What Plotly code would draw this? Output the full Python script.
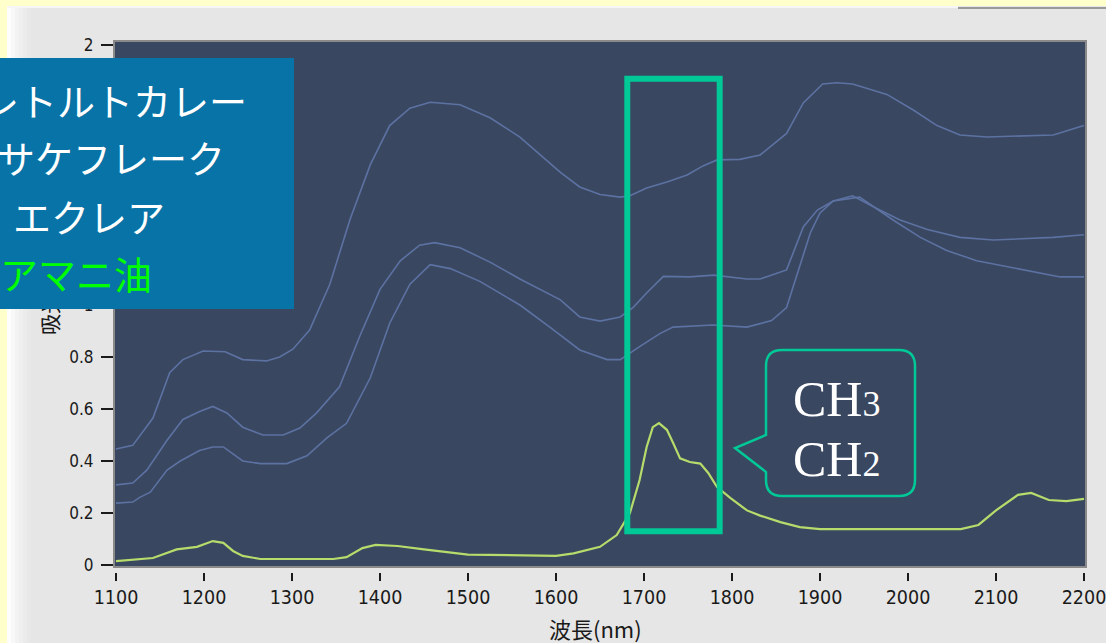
import plotly.graph_objects as go

# ---- spectra (absorbance vs wavelength, nm) ----
wl_curry = [1100, 1119, 1142, 1161, 1176, 1199, 1224, 1244, 1271, 1286, 1301, 1320, 1343, 1366, 1389,
            1411, 1434, 1457, 1491, 1525, 1559, 1605, 1627, 1650, 1673, 1684, 1703, 1726, 1749, 1767,
            1783, 1809, 1832, 1862, 1881, 1903, 1919, 1937, 1976, 2006, 2033, 2059, 2090, 2165, 2200]
abs_curry = [0.446, 0.46, 0.565, 0.74, 0.79, 0.823, 0.82, 0.79, 0.785, 0.80, 0.83, 0.904, 1.08, 1.33, 1.54,
             1.69, 1.757, 1.78, 1.77, 1.72, 1.646, 1.51, 1.454, 1.425, 1.415, 1.42, 1.45, 1.473, 1.50, 1.535,
             1.558, 1.56, 1.577, 1.66, 1.777, 1.85, 1.855, 1.85, 1.81, 1.75, 1.69, 1.654, 1.646, 1.654, 1.69]

wl_salmon = [1100, 1119, 1135, 1158, 1176, 1195, 1210, 1226, 1244, 1267, 1290, 1309, 1328, 1354, 1377,
             1400, 1423, 1445, 1462, 1491, 1525, 1559, 1605, 1627, 1650, 1673, 1688, 1703, 1722, 1752,
             1779, 1817, 1832, 1862, 1881, 1897, 1915, 1937, 1965, 1991, 2022, 2059, 2097, 2165, 2200]
abs_salmon = [0.308, 0.315, 0.365, 0.48, 0.56, 0.59, 0.61, 0.585, 0.53, 0.50, 0.50, 0.527, 0.585, 0.685, 0.88,
              1.06, 1.17, 1.23, 1.24, 1.22, 1.165, 1.10, 1.02, 0.954, 0.938, 0.954, 0.992, 1.046, 1.11, 1.108,
              1.115, 1.10, 1.10, 1.135, 1.30, 1.365, 1.40, 1.42, 1.37, 1.327, 1.29, 1.26, 1.25, 1.26, 1.27]

wl_eclair = [1100, 1119, 1127, 1139, 1158, 1173, 1195, 1210, 1222, 1244, 1264, 1294, 1317, 1340, 1362,
             1389, 1411, 1434, 1457, 1480, 1514, 1559, 1593, 1627, 1658, 1673, 1695, 1718, 1733, 1778,
             1817, 1845, 1862, 1877, 1889, 1900, 1915, 1945, 1983, 2014, 2044, 2078, 2116, 2153, 2173, 2200]
abs_eclair = [0.238, 0.242, 0.26, 0.28, 0.365, 0.40, 0.44, 0.454, 0.454, 0.40, 0.39, 0.39, 0.42, 0.49, 0.545,
              0.72, 0.93, 1.08, 1.155, 1.14, 1.09, 1.0, 0.915, 0.827, 0.79, 0.79, 0.84, 0.89, 0.915, 0.923,
              0.915, 0.94, 0.99, 1.146, 1.277, 1.354, 1.40, 1.415, 1.327, 1.26, 1.21, 1.17, 1.146, 1.12, 1.108, 1.108]

wl_linseed = [1100, 1127, 1142, 1169, 1192, 1210, 1222, 1233, 1244, 1264, 1347, 1362, 1380, 1395, 1420,
              1450, 1480, 1500, 1600, 1620, 1650, 1669, 1684, 1695, 1703, 1710, 1717, 1726, 1733, 1741,
              1752, 1764, 1773, 1783, 1798, 1817, 1832, 1855, 1877, 1900, 2060, 2080, 2100, 2125, 2140,
              2160, 2180, 2200]
abs_linseed = [0.015, 0.023, 0.027, 0.06, 0.07, 0.092, 0.085, 0.054, 0.035, 0.023, 0.023, 0.03, 0.065, 0.077, 0.073,
               0.06, 0.048, 0.04, 0.035, 0.045, 0.07, 0.115, 0.2, 0.327, 0.454, 0.53, 0.546, 0.52, 0.47, 0.41,
               0.396, 0.39, 0.354, 0.30, 0.258, 0.21, 0.19, 0.165, 0.146, 0.138, 0.138, 0.154, 0.21, 0.27, 0.277,
               0.25, 0.246, 0.254]

sample_names = ["レトルトカレー", "サケフレーク", "エクレア", "アマニ油"]

x_ticks = list(range(1100, 2201, 100))
y_ticks = [0, 0.2, 0.4, 0.6, 0.8, 1.0, 1.2, 1.4, 1.6, 1.8, 2.0]
y_hidden = {1.2, 1.4, 1.6, 1.8}          # labels sitting under the sample panel

# highlighted C-H band (nm, absorbance)
band_x = (1681, 1786)
band_y = (0.13, 1.87)

# ---- canvas geometry (pixels) ----
W, H = 1106, 643
PL, PR, PT, PB = 115, 1085, 42, 566      # plot box
PAPER_B = 572                            # paper bottom (tick row for x)

def px(x):
    return (x - PL) / (PR - PL)

def py(y):
    return (PAPER_B - y) / (PAPER_B - PT)

def pt(x, y):
    return f"{px(x):.5f},{py(y):.5f}"

BG_PLOT = "#3A4761"
PANEL = "#E6E6E6"
BLUE_LINE = "#5C72A2"
GREEN_LINE = "#B6DC6C"
MARK = "#00C896"

fig = go.Figure()
for wl, ab in [(wl_curry, abs_curry), (wl_salmon, abs_salmon), (wl_eclair, abs_eclair)]:
    fig.add_trace(go.Scatter(x=wl, y=ab, mode="lines",
                             line=dict(color=BLUE_LINE, width=1.6), showlegend=False, hoverinfo="skip"))
fig.add_trace(go.Scatter(x=wl_linseed, y=abs_linseed, mode="lines",
                         line=dict(color=GREEN_LINE, width=2.2), showlegend=False, hoverinfo="skip"))
# carrier trace for the detached tick row
fig.add_trace(go.Scatter(x=[], y=[], xaxis="x2", yaxis="y", showlegend=False))

x_range = [1100 - 1 / 0.88, 1100 + 969 / 0.88]
y_range = [(565 - PB) / 260, (565 - PT) / 260]

tick_font = dict(family="DejaVu Sans Condensed, Liberation Sans Narrow, DejaVu Sans, sans-serif", color="#1a1a1a")

fig.update_layout(
    width=W, height=H,
    margin=dict(l=PL, r=W - PR, t=PT, b=H - PAPER_B, autoexpand=False),
    paper_bgcolor=PANEL,
    plot_bgcolor=BG_PLOT,
    xaxis=dict(range=x_range, showticklabels=False, ticks="", showgrid=False, zeroline=False,
               showline=True, linecolor="#8a8a8a", linewidth=2, mirror=True, automargin=False),
    xaxis2=dict(range=x_range, overlaying="x", anchor="free", position=0, side="bottom",
                tickvals=x_ticks, ticktext=[str(v) for v in x_ticks],
                ticks="outside", ticklen=8, tickwidth=1.5, tickcolor="#1a1a1a",
                showgrid=False, zeroline=False, showline=False, ticklabeloverflow="allow",
                automargin=False, tickfont=dict(size=19.5, **tick_font)),
    yaxis=dict(range=y_range, domain=[(PAPER_B - PB) / (PAPER_B - PT), 1],
               tickvals=y_ticks, ticktext=["" if v in y_hidden else f"{v:g}" for v in y_ticks],
               ticks="outside", ticklen=12, tickwidth=2, tickcolor="#1a1a1a", ticklabelstandoff=4,
               showgrid=False, zeroline=False, automargin=False,
               showline=True, linecolor="#8a8a8a", linewidth=2, mirror=True,
               tickfont=dict(size=17, **tick_font)),
)

shapes = []
# window frame: yellow edge strips and lit bevel on the left
shapes.append(dict(type="rect", xref="paper", yref="paper", x0=px(0), x1=px(W), y0=py(6), y1=py(0),
                   fillcolor="#FFFFCC", line_width=0, layer="below"))
shapes.append(dict(type="rect", xref="paper", yref="paper", x0=px(0), x1=px(7), y0=py(H), y1=py(0),
                   fillcolor="#FFFFCC", line_width=0, layer="below"))
shapes.append(dict(type="rect", xref="paper", yref="paper", x0=px(7), x1=px(958), y0=py(8), y1=py(6),
                   fillcolor="#F6F6F6", line_width=0, layer="below"))
shapes.append(dict(type="rect", xref="paper", yref="paper", x0=px(958), x1=px(W), y0=py(9), y1=py(7),
                   fillcolor="#9a9a9a", line_width=0, layer="below"))
bevel = ["#FDFDFD", "#F8F8F8", "#F3F3F3", "#EFEFEF", "#EBEBEB", "#E8E8E8"]
for i, c in enumerate(bevel):
    shapes.append(dict(type="rect", xref="paper", yref="paper", x0=px(7 + i * 4), x1=px(11 + i * 4),
                       y0=py(H), y1=py(8), fillcolor=c, line_width=0, layer="below"))

# highlighted absorption band
shapes.append(dict(type="rect", xref="x", yref="y", x0=band_x[0], x1=band_x[1], y0=band_y[0], y1=band_y[1],
                   line=dict(color=MARK, width=6), fillcolor="rgba(0,0,0,0)", layer="above"))

# speech bubble
L, R, T, B, r = 766, 915, 350, 496, 16
bubble = (f"M{pt(L + r, T)} L{pt(R - r, T)} Q{pt(R, T)} {pt(R, T + r)} L{pt(R, B - r)} "
          f"Q{pt(R, B)} {pt(R - r, B)} L{pt(L + r, B)} Q{pt(L, B)} {pt(L, B - r)} "
          f"L{pt(L, 472)} L{pt(735, 448)} L{pt(L, 435)} L{pt(L, T + r)} Q{pt(L, T)} {pt(L + r, T)} Z")
shapes.append(dict(type="path", xref="paper", yref="paper", path=bubble,
                   line=dict(color=MARK, width=2.5), fillcolor="rgba(0,0,0,0)", layer="above"))
fig.update_layout(shapes=shapes)

cjk = "Noto Sans CJK JP"
ann = []
# axis titles
ann.append(dict(text="波長(nm)", x=px(595), y=py(628), xref="paper", yref="paper", showarrow=False,
                xanchor="center", yanchor="middle",
                font=dict(family=cjk, size=22, color="#1a1a1a")))
ann.append(dict(text="吸光度", x=px(49), y=py(304), xref="paper", yref="paper", showarrow=False,
                xanchor="center", yanchor="middle",
                textangle=-90, font=dict(family=cjk, size=21, color="#1a1a1a")))
# sample list panel
ann.append(dict(text=" ", x=px(0), y=py(58), xref="paper", yref="paper", xanchor="left", yanchor="top",
                showarrow=False, width=294, height=251, bgcolor="#0873A6", borderwidth=0, borderpad=0))
line_right = [249, 227, 167, 154]
line_mid = [100, 157, 215, 272]
line_col = ["#FFFFFF", "#FFFFFF", "#FFFFFF", "#00FF00"]
for name, xr, ym, c in zip(sample_names, line_right, line_mid, line_col):
    ann.append(dict(text=name, x=px(xr), y=py(ym), xref="paper", yref="paper", xanchor="right",
                    yanchor="middle", showarrow=False, font=dict(family=cjk, size=38, color=c)))
# bubble text
serif = "Liberation Serif, Times New Roman, serif"
for txt, ym in [("CH<span style='font-size:36px'>3</span>", 399), ("CH<span style='font-size:36px'>2</span>", 459)]:
    ann.append(dict(text=txt, x=px(836), y=py(ym), xref="paper", yref="paper", showarrow=False,
                    xanchor="center", yanchor="middle",
                    font=dict(family=serif, size=50, color="#FFFFFF")))
fig.update_layout(annotations=ann)

fig.write_html("out.html")
